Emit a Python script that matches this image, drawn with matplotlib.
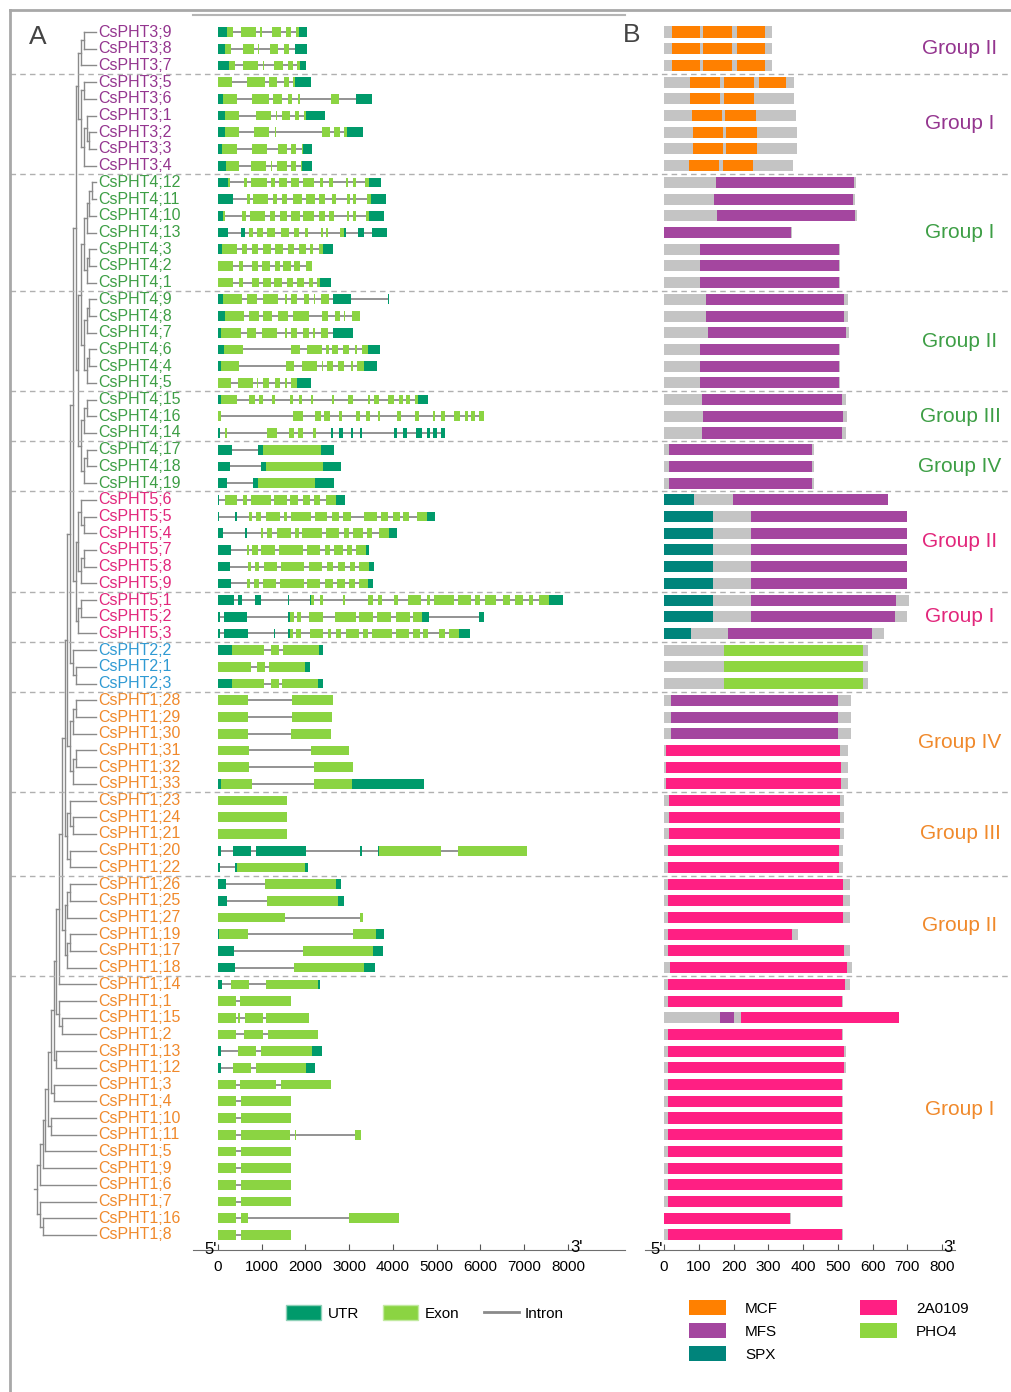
import matplotlib
matplotlib.use("Agg")
import matplotlib.pyplot as plt
from matplotlib.patches import Patch
from matplotlib.lines import Line2D
from matplotlib.transforms import blended_transform_factory

plt.rcParams["font.family"] = ["Liberation Sans", "DejaVu Sans"]

# ---- gene names (top to bottom) ----
pht3_names = ["CsPHT3;9", "CsPHT3;8", "CsPHT3;7", "CsPHT3;5", "CsPHT3;6",
              "CsPHT3;1", "CsPHT3;2", "CsPHT3;3", "CsPHT3;4"]
pht4_names = ["CsPHT4;12", "CsPHT4;11", "CsPHT4;10", "CsPHT4;13", "CsPHT4;3",
              "CsPHT4;2", "CsPHT4;1", "CsPHT4;9", "CsPHT4;8", "CsPHT4;7",
              "CsPHT4;6", "CsPHT4;4", "CsPHT4;5", "CsPHT4;15", "CsPHT4;16",
              "CsPHT4;14", "CsPHT4;17", "CsPHT4;18", "CsPHT4;19"]
pht5_names = ["CsPHT5;6", "CsPHT5;5", "CsPHT5;4", "CsPHT5;7", "CsPHT5;8",
              "CsPHT5;9", "CsPHT5;1", "CsPHT5;2", "CsPHT5;3"]
pht2_names = ["CsPHT2;2", "CsPHT2;1", "CsPHT2;3"]
pht1_names = ["CsPHT1;28", "CsPHT1;29", "CsPHT1;30", "CsPHT1;31", "CsPHT1;32",
              "CsPHT1;33", "CsPHT1;23", "CsPHT1;24", "CsPHT1;21", "CsPHT1;20",
              "CsPHT1;22", "CsPHT1;26", "CsPHT1;25", "CsPHT1;27", "CsPHT1;19",
              "CsPHT1;17", "CsPHT1;18", "CsPHT1;14", "CsPHT1;1", "CsPHT1;15",
              "CsPHT1;2", "CsPHT1;13", "CsPHT1;12", "CsPHT1;3", "CsPHT1;4",
              "CsPHT1;10", "CsPHT1;11", "CsPHT1;5", "CsPHT1;9", "CsPHT1;6",
              "CsPHT1;7", "CsPHT1;16", "CsPHT1;8"]

# ---- gene structures, bp (U = UTR, E = exon) ----
pht3_genes = [
    "U0-210 E210-350 E520-860 E965-995 E1230-1430 E1560-1680 E1790-1850 U1850-2040",
    "U0-150 E150-290 E580-823 E920-945 E1190-1380 E1515-1630 U1770-2040",
    "U0-260 E260-390 E580-920 E1030-1050 E1280-1480 E1600-1710 E1810-1870 U1870-2020",
    "E0-320 E670-1075 E1160-1340 E1515-1615 E1720-1760 U1760-2120",
    "U0-120 E120-427 E777-1165 E1265-1455 E1600-1700 E1820-1865 E2575-2775 U3145-3520",
    "U0-160 E160-488 E868-1204 E1318-1340 E1455-1646 E1760-1860 E1973-2010 U2010-2455",
    "U0-160 E160-488 E823-1173 E1295-1315 E2370-2560 E2660-2790 E2888-2940 U2940-3322",
    "U0-100 E100-427 E770-1128 E1227-1245 E1364-1570 E1670-1783 E1912-1950 U1950-2150",
    "U0-175 E175-488 E747-1097 E1212-1230 E1340-1570 E1660-1783 E1890-1930 U1930-2150",
]
pht4_genes = [
    "U0-236 E236-275 E594-655 E754-1112 E1219-1310 E1402-1570 E1661-1860 E1950-2195 E2332-2393 E2545-2637 E2926-2980 E3086-3147 E3360-3450 U3450-3718",
    "U0-335 E655-731 E808-1150 E1250-1356 E1455-1585 E1707-1912 E2004-2210 E2316-2446 E2598-2697 E2956-3017 E3094-3147 E3413-3490 U3490-3840",
    "U0-122 E122-168 E548-640 E731-1082 E1189-1310 E1417-1570 E1661-1874 E1950-2195 E2316-2438 E2545-2652 E2941-3002 E3094-3155 E3375-3460 U3460-3795",
    "U0-236 U518-610 E701-808 E884-1036 E1128-1295 E1432-1615 E1737-1860 E1989-2065 E2355-2408 E2469-2514 E2789-2880 U2880-2926 U3208-3337 U3520-3856",
    "U0-91 E91-427 E541-655 E777-922 E1021-1204 E1310-1494 E1600-1737 E1844-2011 E2103-2164 E2316-2393 U2393-2637",
    "E0-335 E472-564 E785-922 E1006-1189 E1295-1417 E1493-1661 E1737-1874 E2004-2156",
    "E0-350 E472-580 E770-945 E1021-1204 E1280-1455 E1570-1722 E1813-1973 E2087-2179 E2270-2332 U2332-2575",
    "U0-107 E107-556 E670-884 E1021-1379 E1539-1585 E1669-1813 E1966-2088 E2187-2210 E2347-2530 U2636-3040 U3880-3905",
    "U0-152 E152-594 E716-937 E1036-1227 E1364-1593 E1707-2072 E2377-2507 E2667-2789 E2872-2911 E3063-3246",
    "U0-76 E76-533 E670-869 E998-1356 E1532-1585 E1661-1798 E1950-2072 E2179-2217 E2347-2522 U2636-3094",
    "U0-145 E145-564 E1661-1874 E2027-2370 E2469-2545 E2613-2735 E2865-2987 E3124-3170 E3284-3436 U3436-3710",
    "U0-69 E69-488 E1554-1745 E1920-2255 E2370-2408 E2499-2621 E2735-2880 E3033-3078 E3170-3337 U3337-3634",
    "E0-290 E465-792 E884-922 E1036-1173 E1303-1417 E1532-1570 E1661-1813 U1813-2133",
    "U0-61 E61-427 E701-838 E930-1036 E1242-1295 E1646-1722 E1851-1928 E2126-2179 E2598-2652 E2979-3094 E3421-3475 E3574-3673 E3894-4023 E4145-4221 E4297-4389 E4503-4572 U4572-4808",
    "E0-61 E1707-1950 E2210-2347 E2423-2560 E2758-2827 E3155-3246 E3375-3475 E3650-3703 E4099-4183 E4503-4602 E4907-4968 E5090-5189 E5402-5532 E5646-5722 E5783-5875 E5974-6081",
    "U0-46 E152-198 E1128-1356 E1631-1737 E1836-1950 E2164-2240 U2575-2637 U2774-2850 U3040-3086 U3246-3299 U4031-4099 U4236-4313 U4526-4656 U4785-4846 U4915-5014 U5090-5197",
    "U0-312 U922-1036 E1036-2347 U2347-2652",
    "U0-274 U983-1097 E1097-2408 U2408-2812",
    "U0-213 U808-922 E922-2225 U2225-2652",
]
pht5_genes = [
    "U0-30 E160-442 E564-670 E747-1204 E1280-1570 E1646-1836 E1935-2103 E2194-2332 E2469-2697 U2697-2903",
    "U0-23 U396-442 E716-785 E869-991 E1097-1417 E1509-1585 E1661-2118 E2217-2499 E2598-2758 E2850-3048 E3337-3642 E3726-3894 E3993-4160 E4236-4374 E4541-4785 U4785-4953",
    "U0-114 U625-655 E975-1036 E1128-1242 E1356-1661 E1760-1860 E1928-2370 E2469-2774 E2880-3002 E3094-3307 E3399-3528 E3680-3909 U3909-4084",
    "U0-290 E655-716 E785-922 E983-1303 E1387-1950 E2027-2332 E2446-2560 E2652-2850 E2941-3055 E3147-3375 U3375-3452",
    "U0-274 E693-747 E838-945 E1052-1356 E1448-1966 E2072-2370 E2484-2621 E2743-2911 E3017-3124 E3231-3452 U3452-3574",
    "U0-290 E670-731 E823-930 E1021-1326 E1417-1973 E2042-2332 E2454-2636 E2712-2903 E3002-3124 E3231-3421 U3421-3543",
    "U0-373 U465-541 U853-991 U1592-1623 U2103-2134 E2134-2194 E2332-2393 E2865-2903 E3436-3535 E3650-3741 E4023-4122 E4351-4640 E4770-4846 E4945-5394 E5478-5775 E5874-5989 E6096-6355 E6507-6675 E6789-6964 E7109-7208 E7345-7574 U7574-7879",
    "U0-46 U137-670 U1608-1646 E1646-1737 E1798-1890 E2088-2408 E2682-3155 E3231-3535 E3642-3947 E4069-4389 E4450-4671 U4671-4816 U5959-6081",
    "U0-46 U137-678 U1288-1303 U1608-1646 E1646-1722 E1783-1890 E2103-2408 E2507-2591 E2697-2804 E2926-3231 E3322-3429 E3528-3977 E4061-4358 E4450-4617 E4694-4808 E5060-5189 E5288-5517 U5517-5760",
]
pht2_genes = [
    "U0-312 E312-1052 E1212-1402 E1486-2301 U2301-2408",
    "E0-747 E891-1082 E1173-1989 U1989-2095",
    "U0-312 E312-1052 E1212-1402 E1471-2293 U2293-2408",
]
pht1_genes = [
    "E0-686 E1699-2621",
    "E0-686 E1684-2606",
    "E0-686 E1669-2591",
    "E0-709 E2118-2995",
    "E0-716 E2194-3078",
    "U0-61 E61-777 E2194-3071 U3071-4717",
    "E0-1570",
    "E0-1570",
    "E0-1570",
    "U0-69 U350-762 U869-2019 U3246-3292 U3650-3680 E3680-5090 E5478-7056",
    "U0-38 U396-427 E427-1989 U1989-2065",
    "U0-183 E1067-2690 U2690-2812",
    "U0-206 E1112-2735 U2735-2873",
    "E0-1540 E3246-3322",
    "U0-23 E23-686 E3094-3604 U3604-3787",
    "U0-373 E1935-3551 U3551-3780",
    "U0-396 E1737-3345 U3345-3597",
    "U0-84 E305-709 E1090-2293 U2293-2332",
    "E0-404 E503-1669",
    "E0-404 E465-495 E617-1021 E1097-2088",
    "E0-404 E594-1021 E1135-2286",
    "U0-76 E465-869 E983-2141 U2141-2370",
    "U0-76 E350-747 E861-2011 U2011-2225",
    "E0-404 E510-1326 E1433-2583",
    "E0-404 E518-1669",
    "E0-404 E518-1669",
    "E0-404 E518-1646 E1752-1783 E3132-3277",
    "E0-404 E518-1669",
    "E0-404 E518-1669",
    "E0-404 E518-1669",
    "E0-404 E518-1669",
    "E0-404 E518-693 E2995-4138",
    "E0-404 E518-1669",
]

# ---- protein domains, aa (g = protein, o = MCF, m = MFS, s = SPX, p = 2A0109, h = PHO4) ----
pht3_domains = [
    "g0-309 o22-104 o113-195 o211-289", "g0-309 o22-104 o113-195 o211-289",
    "g0-309 o22-104 o113-195 o211-289", "g0-374 o75-162 o172-260 o274-351",
    "g0-374 o75-162 o172-260", "g0-379 o80-166 o176-264", "g0-381 o82-168 o178-266",
    "g0-381 o82-168 o178-266", "g0-372 o72-158 o168-255",
]
pht4_domains = [
    "g0-552 m148-547", "g0-549 m144-543", "g0-556 m152-550", "g0-367 m0-364",
    "g0-506 m103-502", "g0-506 m103-502", "g0-506 m103-502",
    "g0-528 m121-518", "g0-528 m121-518", "g0-533 m125-522",
    "g0-507 m102-503", "g0-507 m102-503", "g0-507 m102-503",
    "g0-524 m110-513", "g0-526 m112-515", "g0-524 m110-513",
    "g0-430 m13-425", "g0-430 m13-425", "g0-430 m13-425",
]
pht5_domains = [
    "g0-644 s0-86 m197-644", "g0-698 s0-141 m249-698", "g0-700 s0-141 m249-700",
    "g0-700 s0-141 m249-700", "g0-700 s0-141 m249-700", "g0-700 s0-141 m249-700",
    "g0-705 s0-141 m249-667", "g0-699 s0-141 m249-663", "g0-634 s0-76 m183-597",
]
pht2_domains = ["g0-587 h171-572", "g0-587 h171-572", "g0-587 h171-572"]
pht1_domains = [
    "g0-537 m21-499", "g0-537 m21-499", "g0-537 m21-499",
    "g0-529 p5-506", "g0-529 p5-509", "g0-529 p5-509",
    "g0-518 p13-506", "g0-518 p13-506", "g0-518 p13-506",
    "g0-516 p11-504", "g0-516 p11-504",
    "g0-535 p10-514", "g0-535 p10-514", "g0-535 p10-514",
    "g0-386 p10-369", "g0-535 p10-517", "g0-542 p17-525",
    "g0-535 p11-520", "g0-514 p10-513", "g0-677 m161-200 p222-677",
    "g0-514 p10-513", "g0-524 p10-517", "g0-524 p10-517",
    "g0-514 p10-513", "g0-514 p10-513", "g0-514 p10-513", "g0-514 p10-513",
    "g0-514 p10-513", "g0-514 p10-513", "g0-514 p10-513", "g0-514 p10-513",
    "g0-366 p0-362", "g0-514 p10-513",
]

# ---- subgroups: label, first row, last row, family ----
groups = [
    ("Group II", 0, 2, "PHT3"), ("Group I", 3, 8, "PHT3"),
    ("Group I", 9, 15, "PHT4"), ("Group II", 16, 21, "PHT4"),
    ("Group III", 22, 24, "PHT4"), ("Group IV", 25, 27, "PHT4"),
    ("Group II", 28, 33, "PHT5"), ("Group I", 34, 36, "PHT5"),
    ("", 37, 39, "PHT2"),
    ("Group IV", 40, 45, "PHT1"), ("Group III", 46, 50, "PHT1"),
    ("Group II", 51, 56, "PHT1"), ("Group I", 57, 72, "PHT1"),
]

# ---- tree topology (row indices) ----
pht3_tree = [[[0, 1], 2], [[3, 4], [[5, [6, 7]], 8]]]
pht4_tree = [[[[[[9, 10], 11], 12], [[13, 14], 15]], [[[16, 17], 18], [[19, 20], 21]]],
             [[[22, 23], 24], [[25, 26], 27]]]
pht5_tree = [[[28, [29, 30]], [[31, 32], 33]], [[34, 35], 36]]
pht2_tree = [37, [38, 39]]
pht1_ladder = [[[[40, 41], 42], [[43, 44], 45]], [[46, [47, 48]], [49, 50]],
               [[[51, 52], 53], [[54, 55], 56]], 57, [58, [59, 60]], [61, 62],
               [63, 64], [65, 66], 67, 68, 69, [70, [71, 72]]]

fam_colors = {"PHT3": "#94358f", "PHT4": "#3d9e45", "PHT5": "#e2267b",
              "PHT2": "#2f9ad3", "PHT1": "#f0892b"}
part_colors = {"U": "#009a6b", "E": "#8bd442"}
dom_colors = {"g": "#c4c4c4", "o": "#ff8000", "m": "#a4469f", "s": "#00847b",
              "p": "#ff1f83", "h": "#8ed640"}

names = pht3_names + pht4_names + pht5_names + pht2_names + pht1_names
genes = pht3_genes + pht4_genes + pht5_genes + pht2_genes + pht1_genes
domains = pht3_domains + pht4_domains + pht5_domains + pht2_domains + pht1_domains
name_fam = (["PHT3"] * len(pht3_names) + ["PHT4"] * len(pht4_names) +
            ["PHT5"] * len(pht5_names) + ["PHT2"] * len(pht2_names) +
            ["PHT1"] * len(pht1_names))


def parse(spec):
    out = []
    for tok in spec.split():
        a, b = tok[1:].split("-")
        out.append((tok[0], float(a), float(b)))
    return out


W, H = 1011, 1392
fig = plt.figure(figsize=(W / 100, H / 100), dpi=100)
top_px, bot_px = 15.3, 1250
ax_h = (bot_px - top_px) / H
ax_b = 1 - bot_px / H
ax_tree = fig.add_axes([20 / W, ax_b, 78 / W, ax_h])
ax_gene = fig.add_axes([193 / W, ax_b, 432 / W, ax_h])
ax_prot = fig.add_axes([645 / W, ax_b, 310 / W, ax_h])
ylim = (72.9, -1.0)
for ax in (ax_tree, ax_gene, ax_prot):
    ax.set_ylim(*ylim)
    ax.patch.set_visible(False)

# ---- tree ----
ax_tree.set_xlim(20, 98)
ax_tree.axis("off")
ROOT_X, LEAF_X, STEP = 37, 96, 2.75
full_tree = [[pht3_tree, pht4_tree], pht5_tree]
full_tree = [full_tree, pht2_tree]
for sub in pht1_ladder:
    full_tree = [full_tree, sub]


def draw_tree(node, depth):
    if isinstance(node, int):
        return LEAF_X, node
    pts = [draw_tree(ch, depth + 1) for ch in node]
    x = ROOT_X + depth * STEP
    ys = [p[1] for p in pts]
    ax_tree.plot([x, x], [min(ys), max(ys)], color="#8a8a8a", lw=1)
    for cx, cy in pts:
        ax_tree.plot([x, cx], [cy, cy], color="#8a8a8a", lw=1)
    return x, (min(ys) + max(ys)) / 2


rx, ry = draw_tree(full_tree, 0)
ax_tree.plot([rx - 3, rx], [ry, ry], color="#8a8a8a", lw=1)
for i, (nm, fam) in enumerate(zip(names, name_fam)):
    ax_tree.text(98.5, i, nm, color=fam_colors[fam], fontsize=11.5,
                 va="center", ha="left", clip_on=False)

# ---- gene structures ----
for i, spec in enumerate(genes):
    parts = parse(spec)
    start = min(p[1] for p in parts)
    end = max(p[2] for p in parts)
    ax_gene.hlines(i, start, end, color="#8a8a8a", lw=1.3, zorder=1)
    for kind, a, b in parts:
        ax_gene.broken_barh([(a, b - a)], (i - 0.29, 0.58),
                            facecolor=part_colors[kind], edgecolor="none", zorder=2)
ax_gene.set_xlim(-571, 9303)
ax_gene.set_xticks(range(0, 8001, 1000))
ax_gene.set_yticks([])
for s in ("left", "right"):
    ax_gene.spines[s].set_visible(False)
ax_gene.spines["top"].set_color("#b5b5b5")
ax_gene.spines["top"].set_linewidth(1.5)
ax_gene.spines["bottom"].set_color("#6e6e6e")
ax_gene.tick_params(axis="x", direction="in", length=4, color="#555555",
                    labelsize=11, pad=7)
bt = blended_transform_factory(ax_gene.transData, ax_gene.transAxes)
ax_gene.text(-30, 0.0, "5'", transform=bt, ha="right", va="center", fontsize=12)
ax_gene.text(8050, 0.002, "3'", transform=bt, ha="left", va="center", fontsize=12)

# ---- protein domains ----
for i, spec in enumerate(domains):
    for kind, a, b in parse(spec):
        ax_prot.broken_barh([(a, b - a)], (i - 0.33, 0.66),
                            facecolor=dom_colors[kind], edgecolor="none")
ax_prot.set_xlim(-55, 837)
ax_prot.set_xticks(range(0, 801, 100))
ax_prot.set_yticks([])
for s in ("left", "right", "top"):
    ax_prot.spines[s].set_visible(False)
ax_prot.spines["bottom"].set_color("#6e6e6e")
ax_prot.tick_params(axis="x", direction="in", length=4, color="#555555",
                    labelsize=11, pad=7)
bp = blended_transform_factory(ax_prot.transData, ax_prot.transAxes)
ax_prot.text(-3, 0.0, "5'", transform=bp, ha="right", va="center", fontsize=12)
ax_prot.text(803, 0.002, "3'", transform=bp, ha="left", va="center", fontsize=12)

# ---- separators and group labels ----
sep_tr = blended_transform_factory(fig.transFigure, ax_gene.transData)
for label, r0, r1, fam in groups:
    if r1 < len(names) - 1:
        ax_gene.plot([10 / W, 1], [r1 + 0.5, r1 + 0.5], transform=sep_tr,
                     color="#b0b0b0", lw=1, dashes=(4, 3), clip_on=False, zorder=0)
    if label:
        ax_gene.text(960 / W, (r0 + r1) / 2, label, transform=sep_tr,
                     color=fam_colors[fam], fontsize=15, ha="center", va="center")

# ---- frame and panel letters ----
fig.add_artist(Line2D([10 / W, 10 / W], [0, 1 - 10 / H], color="#a8a8a8", lw=2))
fig.add_artist(Line2D([10 / W, 1], [1 - 10 / H, 1 - 10 / H], color="#a8a8a8", lw=2))
fig.text(38 / W, 1 - 37 / H, "A", fontsize=19, color="#444444", ha="center", va="center")
fig.text(632 / W, 1 - 35 / H, "B", fontsize=19, color="#444444", ha="center", va="center")

# ---- legends ----
gene_handles = [Patch(facecolor=part_colors["U"], edgecolor="#8fd1b8"),
                Patch(facecolor=part_colors["E"], edgecolor="#c2eaa0"),
                Line2D([], [], color="#8a8a8a", lw=2)]
fig.legend(gene_handles, ["UTR", "Exon", "Intron"], loc="center",
           bbox_to_anchor=(425 / W, 1 - 1313 / H), ncol=3, frameon=False,
           fontsize=11, handlelength=2.3, handleheight=1.1,
           handletextpad=0.4, columnspacing=1.6)
dom_handles = [Patch(facecolor=dom_colors[k], edgecolor="none") for k in "omsph"]
fig.legend(dom_handles, ["MCF", "MFS", "SPX", "2A0109", "PHO4"], loc="center",
           bbox_to_anchor=(829 / W, 1 - 1331 / H), ncol=2, frameon=False,
           fontsize=11, handlelength=2.4, handleheight=1.1, labelspacing=0.5,
           handletextpad=1.25, columnspacing=5.4)

fig.savefig("out.png", dpi=100)
